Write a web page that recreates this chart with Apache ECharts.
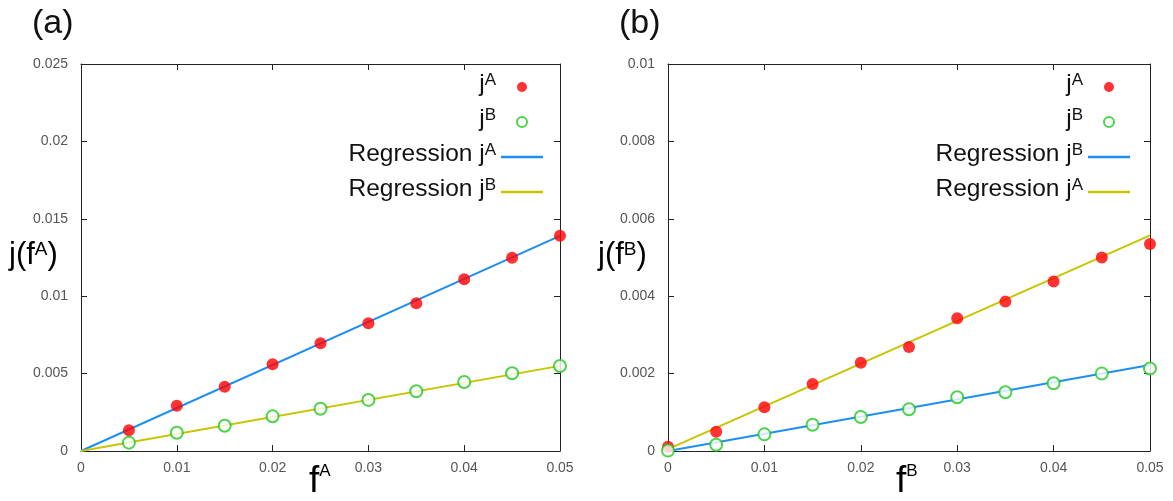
<!DOCTYPE html>
<html>
<head>
<meta charset="utf-8">
<script src="https://cdn.jsdelivr.net/npm/echarts@6/dist/echarts.min.js"></script>
<style>
  html, body { margin: 0; padding: 0; background: #fff; }
  #chart { width: 1173px; height: 501px; }
</style>
</head>
<body>
<div id="chart"></div>
<script>
// panel (a): x = f^A
const fA = [0.005, 0.01, 0.015, 0.02, 0.025, 0.03, 0.035, 0.04, 0.045, 0.05];
const jA_onA = [0.00134, 0.00293, 0.00415, 0.0056, 0.00696, 0.00825, 0.00954, 0.0111, 0.01249, 0.0139];
const jB_onA = [0.00054, 0.00118, 0.00163, 0.00224, 0.00273, 0.0033, 0.00386, 0.00446, 0.00502, 0.00549];
const regX = [0, 0.05];
const regA_onA = [0, 0.0139];
const regB_onA = [0, 0.0055];

// panel (b): x = f^B
const fB = [0, 0.005, 0.01, 0.015, 0.02, 0.025, 0.03, 0.035, 0.04, 0.045, 0.05];
const jA_onB = [0.00011, 0.0005, 0.00113, 0.00173, 0.00228, 0.00269, 0.00343, 0.00386, 0.00438, 0.005, 0.00535];
const jB_onB = [0.00001, 0.00016, 0.00043, 0.00068, 0.00088, 0.00108, 0.00139, 0.00152, 0.00175, 0.002, 0.00213];
const regA_onB = [0.00005, 0.00557];
const regB_onB = [0, 0.00222];

// axis ranges [min, max, interval]
const xRange = [0, 0.05, 0.01];
const yRangeA = [0, 0.025, 0.005];
const yRangeB = [0, 0.01, 0.002];

const RED = '#ff0000', GREEN = '#22c822', BLUE = '#1e8ff0', YELLOW = '#c8c400';
const FONT = 'Liberation Sans';
const LINE_ICON = 'path://M0,0H42V2.4H0Z';

const pair = (xs, ys) => xs.map((x, i) => [x, ys[i]]);

// legend labels, superscripts via rich text
const legendText = {
  jA_a: '{m|j}{s|A}', jB_a: '{m|j}{s|B}',
  regA_a: '{m|Regression j}{s|A}', regB_a: '{m|Regression j}{s|B}',
  jA_b: '{m|j}{s|A}', jB_b: '{m|j}{s|B}',
  regB_b: '{m|Regression j}{s|B}', regA_b: '{m|Regression j}{s|A}'
};
// sup lineHeight chosen so its cap top meets the main text cap top
const supRich = (F, S, L, drop) => ({
  m: { fontSize: F, fontFamily: FONT, color: '#111', lineHeight: L, verticalAlign: 'top' },
  s: { fontSize: S, fontFamily: FONT, color: '#111', lineHeight: Math.round(L - 0.732 * (F - S) + drop), verticalAlign: 'top' }
});

const mkX = (grid, pos) => ({
  type: 'value', gridIndex: grid, position: pos,
  min: xRange[0], max: xRange[1], interval: xRange[2],
  axisLine: { show: true, onZero: false, lineStyle: { color: '#222', width: 1 } },
  axisTick: { show: true, inside: true, length: 6, lineStyle: { color: '#222' } },
  axisLabel: { show: pos === 'bottom', color: '#555', fontSize: 14, fontFamily: FONT, margin: 10 },
  splitLine: { show: false }
});
const mkY = (grid, pos, r) => ({
  type: 'value', gridIndex: grid, position: pos,
  min: r[0], max: r[1], interval: r[2],
  axisLine: { show: true, onZero: false, lineStyle: { color: '#222', width: 1 } },
  axisTick: { show: true, inside: true, length: 6, lineStyle: { color: '#222' } },
  axisLabel: { show: pos === 'left', color: '#555', fontSize: 14, fontFamily: FONT, margin: 13 },
  splitLine: { show: false }
});

const scatterRed = (name, x, y, data) => ({
  name, type: 'scatter', xAxisIndex: x, yAxisIndex: y, data,
  symbol: 'circle', symbolSize: 12, itemStyle: { color: RED }, z: 3
});
const scatterGreen = (name, x, y, data) => ({
  name, type: 'scatter', xAxisIndex: x, yAxisIndex: y, data,
  symbol: 'emptyCircle', symbolSize: 12,
  itemStyle: { color: GREEN, borderWidth: 1.3 }, z: 4
});
const regLine = (name, x, y, data, color) => ({
  name, type: 'line', xAxisIndex: x, yAxisIndex: y, data,
  symbol: 'none', lineStyle: { color, width: 2 }, itemStyle: { color }, z: 2
});

const legendItems = names => names.map(n => n.indexOf('reg') === 0 ? { name: n, icon: LINE_ICON } : { name: n });
const legendBase = {
  orient: 'vertical', align: 'right', top: 67,
  itemWidth: 42, itemHeight: 10, itemGap: 10,
  formatter: n => legendText[n],
  textStyle: { rich: supRich(24.5, 17, 30, 0) }
};

const chart = echarts.init(document.getElementById('chart'));
const option = {
  animation: false,
  backgroundColor: '#fff',
  grid: [
    { left: 81, right: 613, top: 64, bottom: 50 },
    { left: 668, right: 23, top: 64, bottom: 50 }
  ],
  xAxis: [mkX(0, 'bottom'), mkX(0, 'top'), mkX(1, 'bottom'), mkX(1, 'top')],
  yAxis: [mkY(0, 'left', yRangeA), mkY(0, 'right', yRangeA), mkY(1, 'left', yRangeB), mkY(1, 'right', yRangeB)],
  legend: [
    Object.assign({}, legendBase, { right: 625, data: legendItems(['jA_a', 'jB_a', 'regA_a', 'regB_a']) }),
    Object.assign({}, legendBase, { right: 38, data: legendItems(['jA_b', 'jB_b', 'regB_b', 'regA_b']) })
  ],
  series: [
    regLine('regA_a', 0, 0, pair(regX, regA_onA), BLUE),
    regLine('regB_a', 0, 0, pair(regX, regB_onA), YELLOW),
    scatterRed('jA_a', 0, 0, pair(fA, jA_onA)),
    scatterGreen('jB_a', 0, 0, pair(fA, jB_onA)),
    regLine('regA_b', 2, 2, pair(regX, regA_onB), YELLOW),
    regLine('regB_b', 2, 2, pair(regX, regB_onB), BLUE),
    scatterRed('jA_b', 2, 2, pair(fB, jA_onB)),
    scatterGreen('jB_b', 2, 2, pair(fB, jB_onB))
  ],
  graphic: [
    { type: 'text', left: 32, top: 7, style: { text: '(a)', fontSize: 34, fontFamily: FONT, fill: '#111' } },
    { type: 'text', left: 619, top: 7, style: { text: '(b)', fontSize: 34, fontFamily: FONT, fill: '#111' } },
    { type: 'text', left: 9, top: 240, style: { text: '{m|j(f}{s|A}{m|)}', rich: supRich(31, 19, 36, -2) } },
    { type: 'text', left: 598, top: 240, style: { text: '{m|j(f}{s|B}{m|)}', rich: supRich(31, 19, 36, -2) } },
    { type: 'text', left: 309, top: 463, style: { text: '{m|f}{s|A}', rich: supRich(37, 17, 44, 2) } },
    { type: 'text', left: 896, top: 463, style: { text: '{m|f}{s|B}', rich: supRich(37, 17, 44, 2) } }
  ]
};
chart.setOption(option);
</script>
</body>
</html>
